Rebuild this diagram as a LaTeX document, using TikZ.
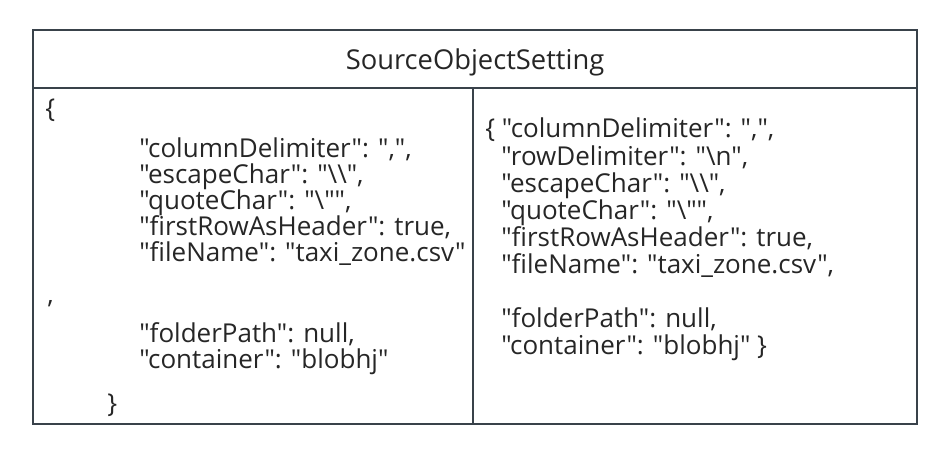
\documentclass[tikz,border=0pt]{standalone}
\usepackage{fontspec}
\setmainfont{Open Sans}[Ligatures=TeXOff]
\definecolor{linec}{HTML}{39424A}
\definecolor{textc}{HTML}{262626}
\newcommand{\bs}{\textbackslash}
\begin{document}
\begin{tikzpicture}[x=0.75pt,y=-0.75pt,
  txt/.style={anchor=base west, inner sep=0pt, font=\fontsize{19.5}{24}\selectfont, text=textc},
  headtxt/.style={anchor=base, inner sep=0pt, font=\fontsize{20.5}{24}\selectfont, text=textc},
  outer/.style={draw=linec, line width=1.5pt},
  divider/.style={draw=linec, line width=1pt}]
\useasboundingbox (0,0) rectangle (930,450);
% table frame
\draw[outer] (33,30) rectangle (917,424);
\draw[outer, line width=1.8pt] (33,88) -- (917,88);
\draw[divider] (473,88) -- (473,424);
% header
\node[headtxt] (head) at (475,69) {SourceObjectSetting};
% left column
\node[txt] (l0) at (45,117) {\{};
\node[txt] (l1) at (139,157) {"columnDelimiter": ",",};
\node[txt] (l2) at (139,183) {"escapeChar": "\bs\bs",};
\node[txt] (l3) at (139,209) {"quoteChar": "\bs"",};
\node[txt] (l4) at (139,235) {"firstRowAsHeader": true,};
\node[txt] (l5) at (139,261) {"fileName": "taxi\_zone.csv"};
\node[txt] (l6) at (47,303) {,};
\node[txt] (l7) at (139,342) {"folderPath": null,};
\node[txt] (l8) at (139,368) {"container": "blobhj"};
\node[txt] (l9) at (107,412) {\}};
% right column
\node[txt] (r1) at (485,137) {\{ "columnDelimiter": ",",};
\node[txt] (r2) at (501,165) {"rowDelimiter": "\bs n",};
\node[txt] (r3) at (501,192) {"escapeChar": "\bs\bs",};
\node[txt] (r4) at (501,219) {"quoteChar": "\bs"",};
\node[txt] (r5) at (501,246) {"firstRowAsHeader": true,};
\node[txt] (r6) at (501,273) {"fileName": "taxi\_zone.csv",};
\node[txt] (r7) at (501,327) {"folderPath": null,};
\node[txt] (r8) at (501,354) {"container": "blobhj" \}};
\end{tikzpicture}
\end{document}
